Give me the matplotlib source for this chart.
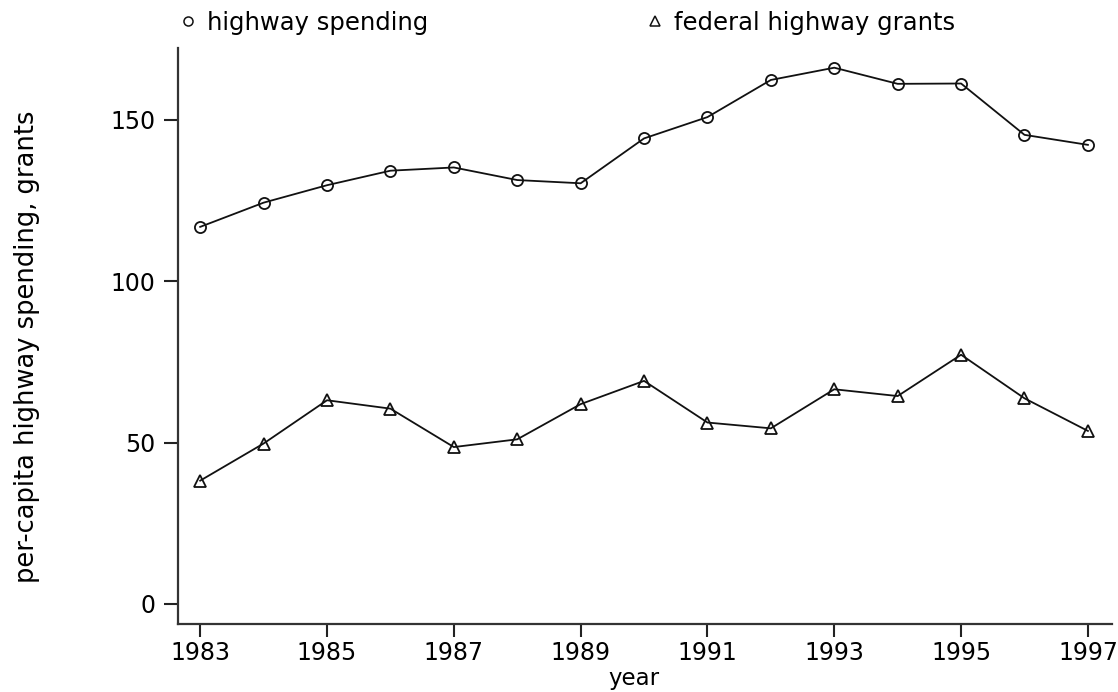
import matplotlib
matplotlib.use("Agg")
import matplotlib.pyplot as plt
from matplotlib.lines import Line2D

years = list(range(1983, 1998))
highway_spending = [116.8, 124.3, 129.7, 134.2, 135.2, 131.3, 130.3, 144.2,
                    150.8, 162.3, 166.1, 161.1, 161.2, 145.3, 142.2]
federal_grants = [38.2, 49.7, 63.1, 60.5, 48.6, 51.0, 61.9, 69.1,
                  56.2, 54.4, 66.5, 64.4, 77.2, 63.7, 53.6]
xticks = [1983, 1985, 1987, 1989, 1991, 1993, 1995, 1997]
yticks = [0, 50, 100, 150]
series_labels = ["highway spending", "federal highway grants"]

plt.rcParams['font.family'] = ['DejaVu Sans']

W, H = 1118, 692
fig = plt.figure(figsize=(W / 100, H / 100), dpi=100)
ax = fig.add_axes([178 / W, 1 - 624 / H, (1112 - 178) / W, (624 - 48) / H])

lc = '#111111'
ax.plot(years, highway_spending, color=lc, lw=1.3, marker='o', ms=8,
        mfc='none', mec=lc, mew=1.3)
ax.plot(years, federal_grants, color=lc, lw=1.3, marker='^', ms=8.5,
        mfc='none', mec=lc, mew=1.3)

ax.set_xlim(1982.65, 1997.38)
ax.set_ylim(-6.2, 172.2)
ax.set_xticks(xticks)
ax.set_yticks(yticks)
ax.tick_params(axis='y', direction='out', length=10, width=1.5,
               color='#222222', labelsize=17, pad=6.5)
ax.tick_params(axis='x', direction='out', length=9, width=1.5,
               color='#222222', labelsize=17, pad=3)
for s in ['top', 'right']:
    ax.spines[s].set_visible(False)
for s in ['left', 'bottom']:
    ax.spines[s].set_linewidth(1.6)
    ax.spines[s].set_color('#333333')

fig.text(634 / W, 1 - 678 / H, 'year', fontsize=16.5, ha='center', va='center')
fig.text(27 / W, 1 - 347 / H, 'per-capita highway spending, grants',
         rotation=90, fontsize=18.5, ha='center', va='center')

# legend
h1 = Line2D([], [], ls='none', marker='o', ms=6.5, mfc='none', mec=lc, mew=1.1)
h2 = Line2D([], [], ls='none', marker='^', ms=6.5, mfc='none', mec=lc, mew=1.1)
leg1 = fig.legend(handles=[h1], labels=[series_labels[0]], loc='center left',
                  bbox_to_anchor=(181 / W, 1 - 23 / H), frameon=False,
                  fontsize=17.5, handlelength=0.6, handletextpad=0.45,
                  borderaxespad=0, borderpad=0)
leg2 = fig.legend(handles=[h2], labels=[series_labels[1]], loc='center left',
                  bbox_to_anchor=(648 / W, 1 - 23 / H), frameon=False,
                  fontsize=17.5, handlelength=0.6, handletextpad=0.45,
                  borderaxespad=0, borderpad=0)

fig.savefig('out.png', dpi=100)
